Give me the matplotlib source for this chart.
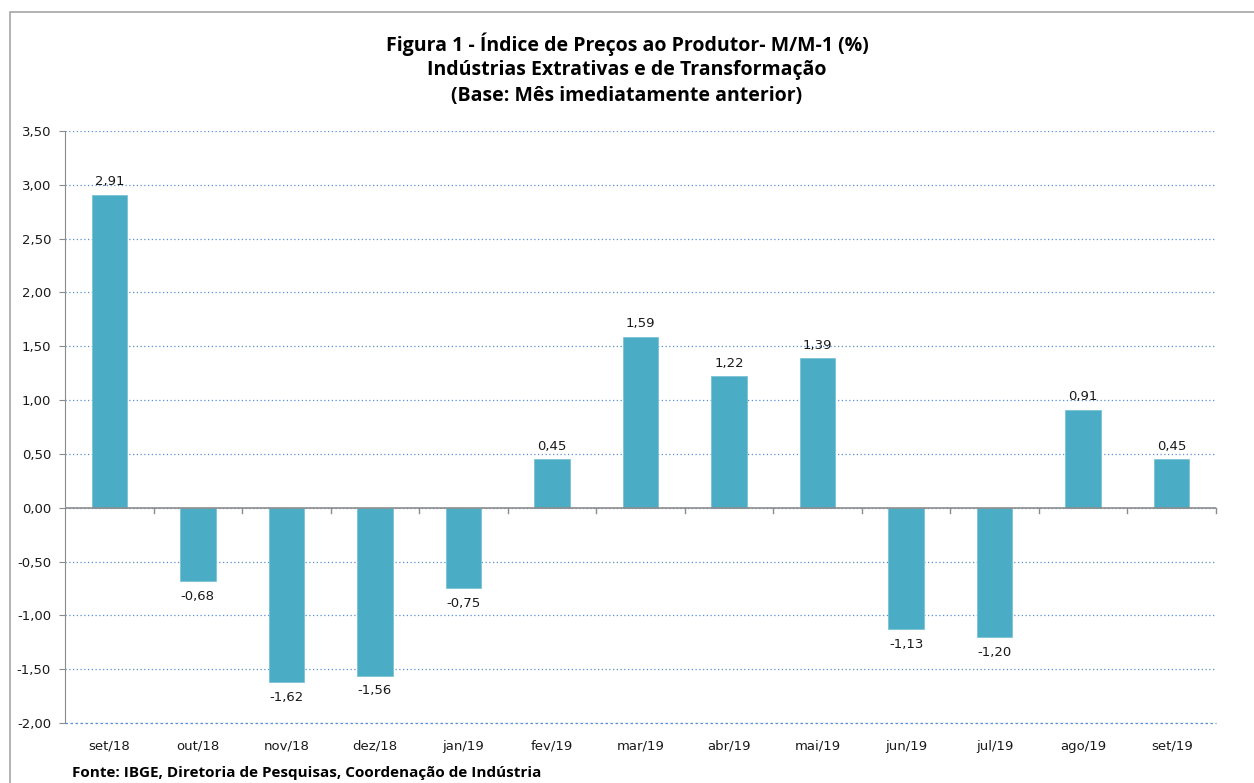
import numpy as np
import matplotlib.pyplot as plt
from matplotlib import font_manager
from matplotlib.patches import Rectangle

meses = ['set/18', 'out/18', 'nov/18', 'dez/18', 'jan/19', 'fev/19', 'mar/19',
         'abr/19', 'mai/19', 'jun/19', 'jul/19', 'ago/19', 'set/19']
valores = [2.91, -0.68, -1.62, -1.56, -0.75, 0.45, 1.59, 1.22, 1.39, -1.13, -1.20, 0.91, 0.45]
y_ticks = [3.5, 3.0, 2.5, 2.0, 1.5, 1.0, 0.5, 0.0, -0.5, -1.0, -1.5, -2.0]

titulo = ['Figura 1 - Índice de Preços ao Produtor- M/M-1 (%)',
          'Indústrias Extrativas e de Transformação',
          '(Base: Mês imediatamente anterior)']
fonte = 'Fonte: IBGE, Diretoria de Pesquisas, Coordenação de Indústria'

names = {f.name for f in font_manager.fontManager.ttflist}
narrow = 'Liberation Sans Narrow' if 'Liberation Sans Narrow' in names else 'Open Sans'

def fmt(v):
    return f'{v:.2f}'.replace('.', ',')

fig = plt.figure(figsize=(12.54, 7.83), dpi=100)
ax = fig.add_axes([65 / 1254, 1 - 723 / 783, (1216 - 65) / 1254, (723 - 131) / 783])

# moldura do grafico
fig.patches.append(Rectangle((10 / 1254, -0.05), 1.1, 1 - 12 / 783 + 0.05, transform=fig.transFigure,
                             fill=False, edgecolor='#A6A6A6', linewidth=1.2))

x = np.arange(len(meses))
ax.bar(x, valores, width=0.4, color='#4BACC6', edgecolor='#7CC3D6', linewidth=0.6, zorder=3)

for xi, v in zip(x, valores):
    if v >= 0:
        ax.text(xi, v + 0.06, fmt(v), ha='center', va='bottom', fontsize=9.5, color='#1a1a1a')
    else:
        ax.text(xi, v - 0.08, fmt(v), ha='center', va='top', fontsize=9.5, color='#1a1a1a')

ax.set_xlim(-0.5, len(meses) - 0.5)
ax.set_ylim(-2.0, 3.5)
ax.set_yticks(y_ticks)
ax.set_yticklabels([fmt(t) for t in y_ticks], fontsize=9.5, color='#1a1a1a')
ax.yaxis.grid(True, linestyle=(0, (1, 2)), color='#5B8FD6', linewidth=0.9, zorder=0)
ax.axhline(-2.0, linestyle=(0, (2, 2)), color='#5B8FD6', linewidth=0.9, zorder=0, clip_on=False)
ax.set_axisbelow(True)

for s in ['top', 'right', 'bottom']:
    ax.spines[s].set_visible(False)
ax.spines['left'].set_color('#8C8C8C')
ax.axhline(0, color='#8C8C8C', linewidth=1.2, zorder=4)
ax.tick_params(axis='y', length=4, color='#8C8C8C', pad=6)

# marcas entre categorias na linha do zero
ax.set_xticks(x)
ax.set_xticklabels(meses, fontsize=9.5, color='#1a1a1a')
ax.tick_params(axis='x', length=0, pad=12)
for b in np.arange(0.5, len(meses), 1.0):
    ax.plot([b, b], [0, -0.05], color='#8C8C8C', linewidth=1.0, zorder=4, clip_on=False)

for i, linha in enumerate(titulo):
    fig.text(0.5, 1 - (44 + 26 * i) / 783, linha, ha='center', va='center',
             fontsize=14, fontweight='bold', family=narrow)
fig.text(72 / 1254, 1 - 773 / 783, fonte, ha='left', va='center',
         fontsize=11, fontweight='bold', family=narrow)

fig.savefig('out.png', dpi=100)
